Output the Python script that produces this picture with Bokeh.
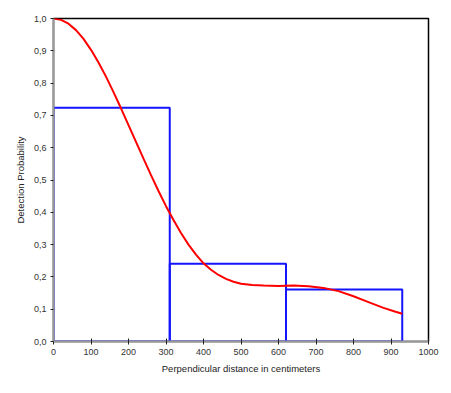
from bokeh.plotting import figure
from bokeh.models import Range1d, FixedTicker
from bokeh.embed import file_html
from bokeh.resources import INLINE

# Histogram bins (perpendicular distance, cm) and heights
bin_left = [0, 310, 620]
bin_right = [310, 620, 930]
bin_height = [0.724, 0.241, 0.161]

# Fitted detection function
curve_x = [0, 20, 40, 60, 80, 100, 120, 140, 160, 180, 200, 220, 240, 260, 280, 300,
           320, 340, 360, 380, 400, 420, 440, 460, 480, 500, 530, 560, 600, 640, 680,
           720, 760, 800, 840, 880, 910, 930]
curve_y = [1.0, 0.996, 0.984, 0.964, 0.937, 0.903, 0.864, 0.820, 0.772, 0.722, 0.670,
           0.618, 0.566, 0.515, 0.466, 0.419, 0.376, 0.336, 0.300, 0.269, 0.242, 0.222,
           0.206, 0.194, 0.185, 0.179, 0.175, 0.173, 0.172, 0.173, 0.171, 0.166, 0.156,
           0.140, 0.122, 0.104, 0.093, 0.086]

x_ticks = [0, 100, 200, 300, 400, 500, 600, 700, 800, 900, 1000]
y_ticks = [0.0, 0.1, 0.2, 0.3, 0.4, 0.5, 0.6, 0.7, 0.8, 0.9, 1.0]
y_tick_labels = ["0,0", "0,1", "0,2", "0,3", "0,4", "0,5", "0,6", "0,7", "0,8", "0,9", "1,0"]

p = figure(width=445, height=390, output_backend="svg", toolbar_location=None,
           x_range=Range1d(0, 1000), y_range=Range1d(0, 1),
           min_border_left=53, min_border_right=17, min_border_top=18, min_border_bottom=49)

p.quad(left=bin_left, right=bin_right, bottom=0, top=bin_height,
       fill_color=None, line_color="#1414ff", line_width=2)
p.line(curve_x, curve_y, line_color="#ff0000", line_width=2)

p.xgrid.visible = False
p.ygrid.visible = False
p.outline_line_color = "black"
p.outline_line_width = 1.5
p.outline_line_alpha = 1
p.background_fill_color = "white"
p.border_fill_color = "white"

for ax in (p.xaxis[0], p.yaxis[0]):
    ax.axis_line_color = "#999999"
    ax.axis_line_width = 2
    ax.major_tick_line_color = "#222222"
    ax.major_tick_line_width = 1
    ax.minor_tick_line_color = None
    ax.major_label_text_font = "Liberation Sans"
    ax.major_label_text_font_size = "9px"
    ax.major_label_text_color = "#333333"
    ax.axis_label_text_font = "Liberation Sans"
    ax.axis_label_text_font_size = "9.5px"
    ax.axis_label_text_font_style = "normal"
    ax.axis_label_text_color = "#222222"

p.xaxis.ticker = FixedTicker(ticks=x_ticks)
p.yaxis.ticker = FixedTicker(ticks=y_ticks)
p.yaxis.major_label_overrides = {t: l for t, l in zip(y_ticks, y_tick_labels)}

p.xaxis.major_tick_out = 3
p.xaxis.major_tick_in = 3
p.yaxis.major_tick_out = 3
p.yaxis.major_tick_in = 0
p.xaxis.major_label_standoff = 4
p.yaxis.major_label_standoff = 4
p.xaxis.axis_label = "Perpendicular distance in centimeters"
p.yaxis.axis_label = "Detection Probability"
p.xaxis.axis_label_standoff = 5
p.yaxis.axis_label_standoff = 5

open("out.html", "w").write(file_html(p, INLINE))
